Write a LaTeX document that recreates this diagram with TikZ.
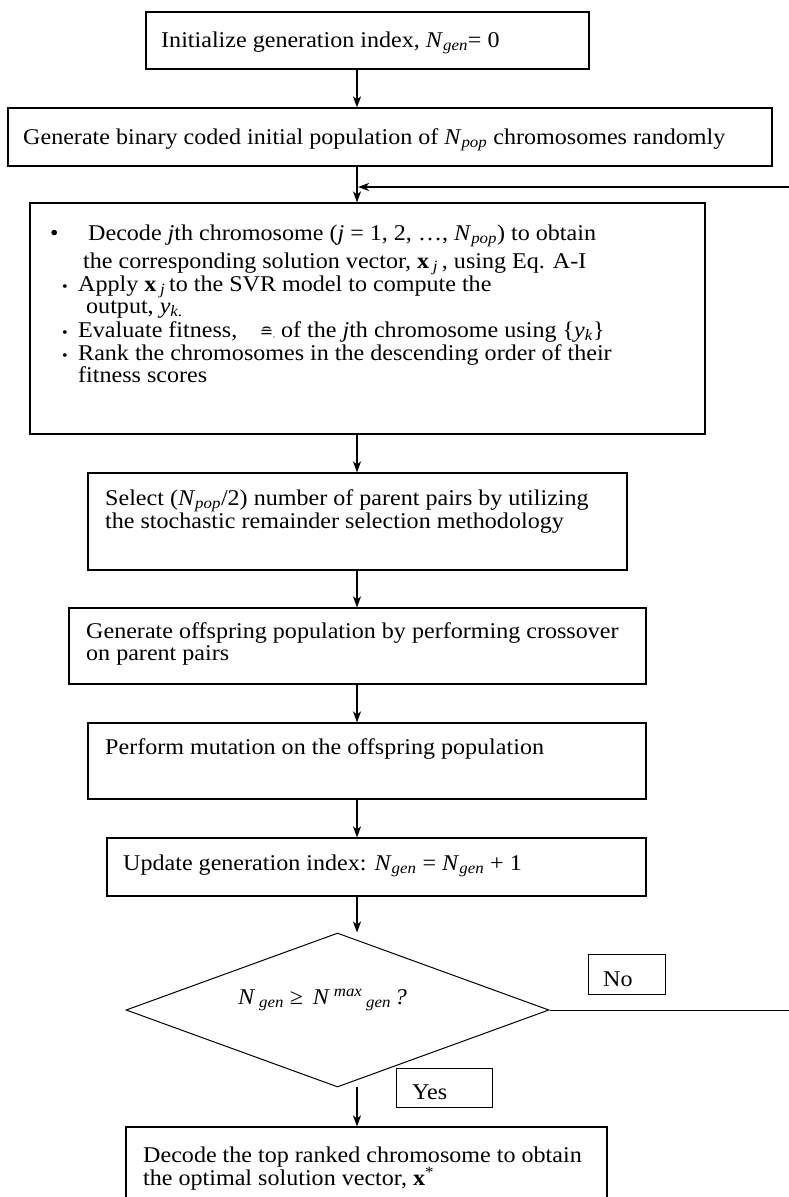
\documentclass[tikz,border=0pt]{standalone}
\usepackage{fontspec}
\setmainfont{Liberation Serif}[FakeStretch=1.07]
\newfontfamily\symfont{DejaVu Sans}
\usetikzlibrary{shapes.geometric,arrows.meta,calc}
\newcommand{\Nsb}[1]{\textit{N}\textsubscript{\textit{#1}}}
\begin{document}
\begin{tikzpicture}[x=1pt,y=-1pt,
  box/.style={draw,line width=1.2pt,rectangle,inner sep=0pt},
  lbox/.style={draw,line width=1pt,rectangle,inner sep=0pt},
  txt/.style={anchor=base west,inner sep=0pt,text height=15pt,text depth=4.5pt,font=\fontsize{22.5}{25}\selectfont},
  bul/.style={anchor=base west,inner sep=0pt,font=\fontsize{15}{16}\selectfont},
  arr/.style={line width=1.6pt,-{Stealth[length=11pt,width=8pt,inset=3pt]}},
  link/.style={line width=1pt}]
\clip (0,0) rectangle (789,1197);
\fill[white] (0,0) rectangle (789,1197);
\coordinate (ax) at (357,0);
% boxes
\node[box,minimum width=443pt,minimum height=57pt] (b1) at (367.5,40.5) {};
\node[box,minimum width=764pt,minimum height=58pt] (b2) at (390,137) {};
\node[box,minimum width=675pt,minimum height=231pt] (b3) at (367.5,318.5) {};
\node[box,minimum width=539pt,minimum height=97pt] (b4) at (357.5,521.5) {};
\node[box,minimum width=577pt,minimum height=76pt] (b5) at (357.5,646) {};
\node[box,minimum width=558pt,minimum height=76pt] (b6) at (367,761) {};
\node[box,minimum width=539pt,minimum height=58pt] (b7) at (376.5,867) {};
\node[draw,line width=1pt,diamond,aspect=2.75,minimum width=423pt,minimum height=154pt,inner sep=0pt] (d) at (337.5,1010) {};
\node[lbox,minimum width=77pt,minimum height=40pt] (no) at (626.5,974) {};
\node[lbox,minimum width=96pt,minimum height=39pt] (yes) at (444,1087.5) {};
\node[box,minimum width=481pt,minimum height=100pt] (b8) at (366.5,1177) {};
% texts
\node[txt] (t1) at (161,47) {Initialize generation index, \Nsb{gen}= 0};
\node[txt] (t2) at (23,144) {Generate binary coded initial population of \Nsb{pop} chromosomes randomly};
\node[txt] (t3b1) at (50,240) {•};
\node[txt] (t3a) at (88,240) {Decode \textit{j}th chromosome (\textit{j} = 1, 2, …, \Nsb{pop}) to obtain};
\node[txt] (t3c) at (83,268) {the corresponding solution vector, \textbf{x}\,\textsubscript{\textit{j}}\,, using Eq. A-I};
\node[bul] (t3b2) at (62,291) {•};
\node[txt] (t3d) at (78,291) {Apply \textbf{x}\,\textsubscript{\textit{j}}\,to the SVR model to compute the};
\node[txt] (t3e) at (86,313) {output, \textit{y}\textsubscript{\textit{k}.}};
\node[bul] (t3b3) at (62,337) {•};
\node[txt] (t3f) at (78,337) {Evaluate fitness,\quad{\symfont\fontsize{16}{17}\selectfont ≘}\textit{\scriptsize,} of the \textit{j}th chromosome using \{\textit{y}\textsubscript{\textit{k}}\}};
\node[bul] (t3b4) at (62,360) {•};
\node[txt] (t3g) at (78,360) {Rank the chromosomes in the descending order of their};
\node[txt] (t3h) at (78,382) {fitness scores};
\node[txt] (t4a) at (105,505) {Select (\Nsb{pop}/2) number of parent pairs by utilizing};
\node[txt] (t4b) at (105,528) {the stochastic remainder selection methodology};
\node[txt] (t5a) at (86,638) {Generate offspring population by performing crossover};
\node[txt] (t5b) at (86,660) {on parent pairs};
\node[txt] (t6) at (105,754) {Perform mutation on the offspring population};
\node[txt] (t7) at (123,870) {Update generation index: \Nsb{gen} = \Nsb{gen} + 1};
\node[txt] (td) at (238,1004) {\textit{N}\,\textsubscript{\textit{gen}} ≥\, \textit{N}\,\textsuperscript{\textit{max}}\,\textsubscript{\textit{gen}}\,\textit{?}};
\node[txt] (tno) at (603,986) {No};
\node[txt] (tyes) at (412,1099) {Yes};
\node[txt] (t8a) at (143,1162) {Decode the top ranked chromosome to obtain};
\node[txt] (t8b) at (143,1185) {the optimal solution vector, \textbf{x}\textsuperscript{*}};
% connectors
\draw[arr] (b1.south -| ax) -- (b2.north -| ax);
\draw[arr] (b2.south -| ax) -- (b3.north -| ax);
\draw[arr] (b3.south -| ax) -- (b4.north -| ax);
\draw[arr] (b4.south -| ax) -- (b5.north -| ax);
\draw[arr] (b5.south -| ax) -- (b6.north -| ax);
\draw[arr] (b6.south -| ax) -- (b7.north -| ax);
\draw[arr] (b7.south -| ax) -- (d.north -| ax);
\draw[arr] (357,1087) coordinate (dy) -- (b8.north -| ax);
\coordinate (r1) at (789,1010);
\coordinate (r2) at (789,187);
\draw[link] (d.east) -- (r1);
\draw[arr] (r2) -- ($(r2 -| ax)+(1,0)$);
\end{tikzpicture}
\end{document}
